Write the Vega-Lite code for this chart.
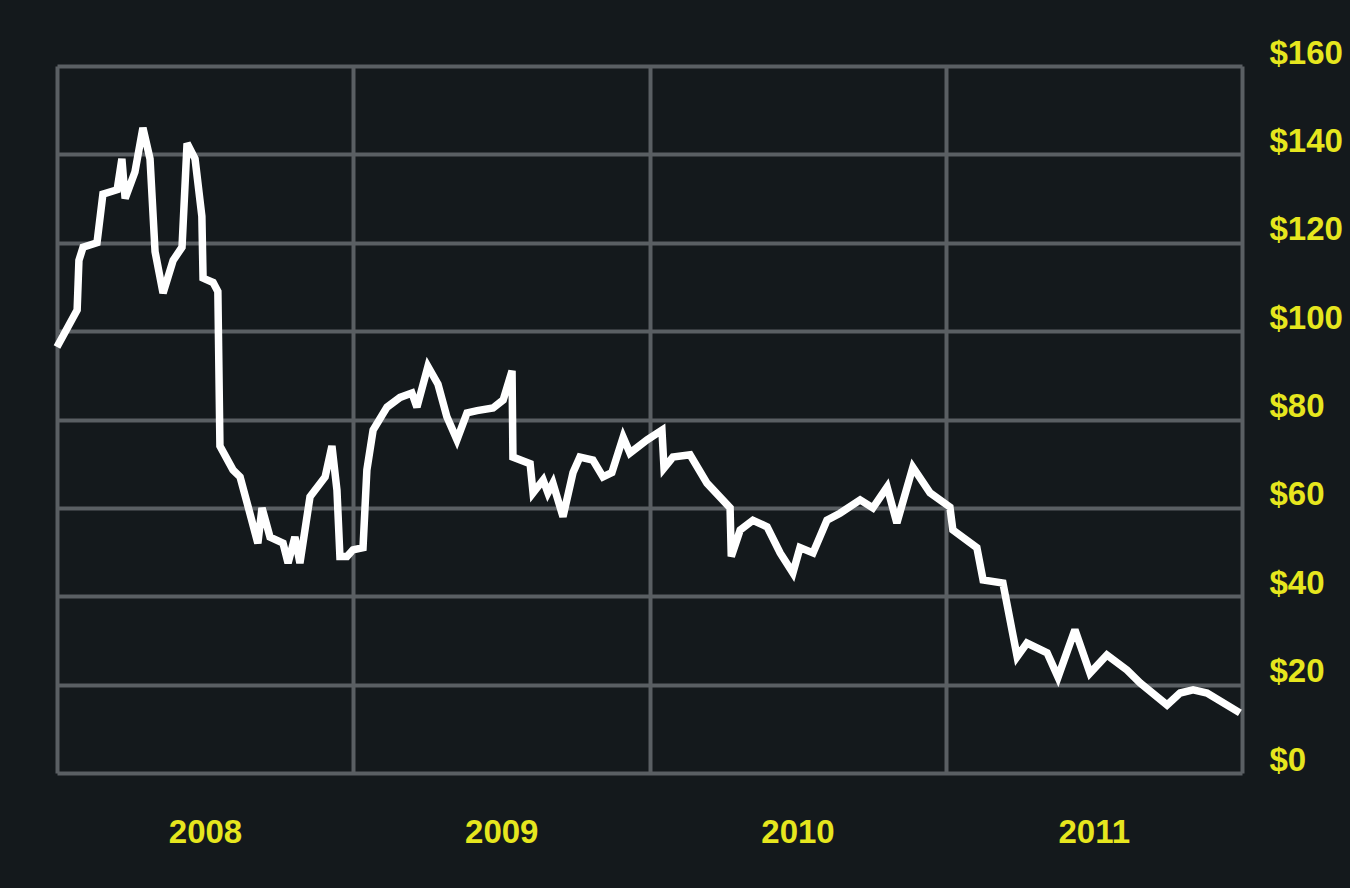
{
  "$schema": "https://vega.github.io/schema/vega-lite/v6.json",
  "autosize": "none",
  "width": 1185,
  "height": 707,
  "padding": {"left": 57, "top": 66, "right": 108, "bottom": 115},
  "background": "#14191c",
  "config": {
    "view": {"stroke": null},
    "axis": {
      "gridColor": "#5a5f63",
      "gridWidth": 4,
      "gridOpacity": 1,
      "domain": false,
      "ticks": false,
      "labelColor": "#e6e61e",
      "labelFont": "Liberation Sans",
      "labelFontWeight": "bold",
      "labelFontSize": 33,
      "title": null
    }
  },
  "data": {
    "values": [
      {"t": 2008.000, "price": 96.4},
      {"t": 2008.068, "price": 104.8},
      {"t": 2008.074, "price": 116},
      {"t": 2008.088, "price": 119},
      {"t": 2008.135, "price": 120},
      {"t": 2008.155, "price": 131},
      {"t": 2008.203, "price": 132},
      {"t": 2008.219, "price": 139},
      {"t": 2008.230, "price": 130},
      {"t": 2008.263, "price": 136},
      {"t": 2008.290, "price": 146},
      {"t": 2008.314, "price": 139},
      {"t": 2008.331, "price": 118},
      {"t": 2008.358, "price": 108.6},
      {"t": 2008.392, "price": 116},
      {"t": 2008.422, "price": 119},
      {"t": 2008.439, "price": 142.5},
      {"t": 2008.466, "price": 139},
      {"t": 2008.489, "price": 126},
      {"t": 2008.493, "price": 112},
      {"t": 2008.527, "price": 111},
      {"t": 2008.543, "price": 109},
      {"t": 2008.550, "price": 74},
      {"t": 2008.594, "price": 68.6},
      {"t": 2008.618, "price": 67},
      {"t": 2008.651, "price": 58.8},
      {"t": 2008.678, "price": 52},
      {"t": 2008.692, "price": 60},
      {"t": 2008.719, "price": 53.4},
      {"t": 2008.763, "price": 52},
      {"t": 2008.780, "price": 47.5},
      {"t": 2008.803, "price": 53.4},
      {"t": 2008.820, "price": 47.5},
      {"t": 2008.854, "price": 62.5},
      {"t": 2008.905, "price": 67},
      {"t": 2008.928, "price": 74},
      {"t": 2008.945, "price": 64},
      {"t": 2008.955, "price": 49},
      {"t": 2008.979, "price": 49},
      {"t": 2008.999, "price": 50.5},
      {"t": 2009.033, "price": 51},
      {"t": 2009.046, "price": 68.6},
      {"t": 2009.067, "price": 77.6},
      {"t": 2009.114, "price": 82.8},
      {"t": 2009.158, "price": 85},
      {"t": 2009.198, "price": 86},
      {"t": 2009.215, "price": 82.8},
      {"t": 2009.252, "price": 92},
      {"t": 2009.286, "price": 88},
      {"t": 2009.316, "price": 80.6},
      {"t": 2009.350, "price": 75.4},
      {"t": 2009.384, "price": 81.5},
      {"t": 2009.418, "price": 82},
      {"t": 2009.472, "price": 82.6},
      {"t": 2009.506, "price": 84.4},
      {"t": 2009.536, "price": 91},
      {"t": 2009.539, "price": 71.5},
      {"t": 2009.597, "price": 70},
      {"t": 2009.607, "price": 63.4},
      {"t": 2009.641, "price": 66.3},
      {"t": 2009.657, "price": 63.4},
      {"t": 2009.674, "price": 65.6},
      {"t": 2009.708, "price": 58},
      {"t": 2009.742, "price": 68},
      {"t": 2009.765, "price": 71.5},
      {"t": 2009.809, "price": 70.8},
      {"t": 2009.843, "price": 67},
      {"t": 2009.873, "price": 68},
      {"t": 2009.911, "price": 76},
      {"t": 2009.934, "price": 72.4},
      {"t": 2009.992, "price": 75.4},
      {"t": 2010.042, "price": 77.6},
      {"t": 2010.049, "price": 69},
      {"t": 2010.079, "price": 71.5},
      {"t": 2010.137, "price": 72},
      {"t": 2010.194, "price": 65.6},
      {"t": 2010.272, "price": 60},
      {"t": 2010.276, "price": 49},
      {"t": 2010.306, "price": 55},
      {"t": 2010.349, "price": 57.2},
      {"t": 2010.397, "price": 55.7},
      {"t": 2010.441, "price": 49.8},
      {"t": 2010.484, "price": 45.3},
      {"t": 2010.508, "price": 51},
      {"t": 2010.552, "price": 49.8},
      {"t": 2010.599, "price": 57.2},
      {"t": 2010.643, "price": 58.8},
      {"t": 2010.711, "price": 61.8},
      {"t": 2010.754, "price": 60},
      {"t": 2010.802, "price": 64.7},
      {"t": 2010.835, "price": 56.6},
      {"t": 2010.889, "price": 69.2},
      {"t": 2010.947, "price": 63.4},
      {"t": 2011.014, "price": 60.2},
      {"t": 2011.024, "price": 55},
      {"t": 2011.105, "price": 51},
      {"t": 2011.126, "price": 43.7},
      {"t": 2011.193, "price": 43},
      {"t": 2011.241, "price": 26.3},
      {"t": 2011.274, "price": 29.4},
      {"t": 2011.342, "price": 27.2},
      {"t": 2011.379, "price": 21.7},
      {"t": 2011.436, "price": 32.4},
      {"t": 2011.487, "price": 22.6},
      {"t": 2011.544, "price": 26.7},
      {"t": 2011.612, "price": 23.3},
      {"t": 2011.656, "price": 20.4},
      {"t": 2011.747, "price": 15.4},
      {"t": 2011.791, "price": 18.1},
      {"t": 2011.835, "price": 18.8},
      {"t": 2011.882, "price": 18.1},
      {"t": 2011.993, "price": 13.6}
    ]
  },
  "mark": {"type": "line", "color": "#ffffff", "strokeWidth": 7.5, "strokeJoin": "miter", "strokeMiterLimit": 3, "clip": false},
  "encoding": {
    "x": {
      "field": "t",
      "type": "quantitative",
      "scale": {"domain": [2008, 2012], "nice": false, "zero": false},
      "axis": {
        "values": [2008, 2009, 2010, 2011, 2012],
        "grid": true,
        "labelExpr": "datum.value < 2012 ? format(datum.value, 'd') : ''",
        "labelOffset": 148,
        "labelFlush": false,
        "labelOverlap": false,
        "labelPadding": 59,
        "labelBaseline": "middle",
        "labelAlign": "center"
      }
    },
    "y": {
      "field": "price",
      "type": "quantitative",
      "scale": {"domain": [0, 160], "nice": false},
      "axis": {
        "orient": "right",
        "values": [0, 20, 40, 60, 80, 100, 120, 140, 160],
        "grid": true,
        "labelExpr": "'$' + datum.value",
        "labelAlign": "left",
        "labelBaseline": "middle",
        "labelPadding": 27,
        "labelOffset": -13,
        "labelFlush": false,
        "labelOverlap": false
      }
    }
  }
}
